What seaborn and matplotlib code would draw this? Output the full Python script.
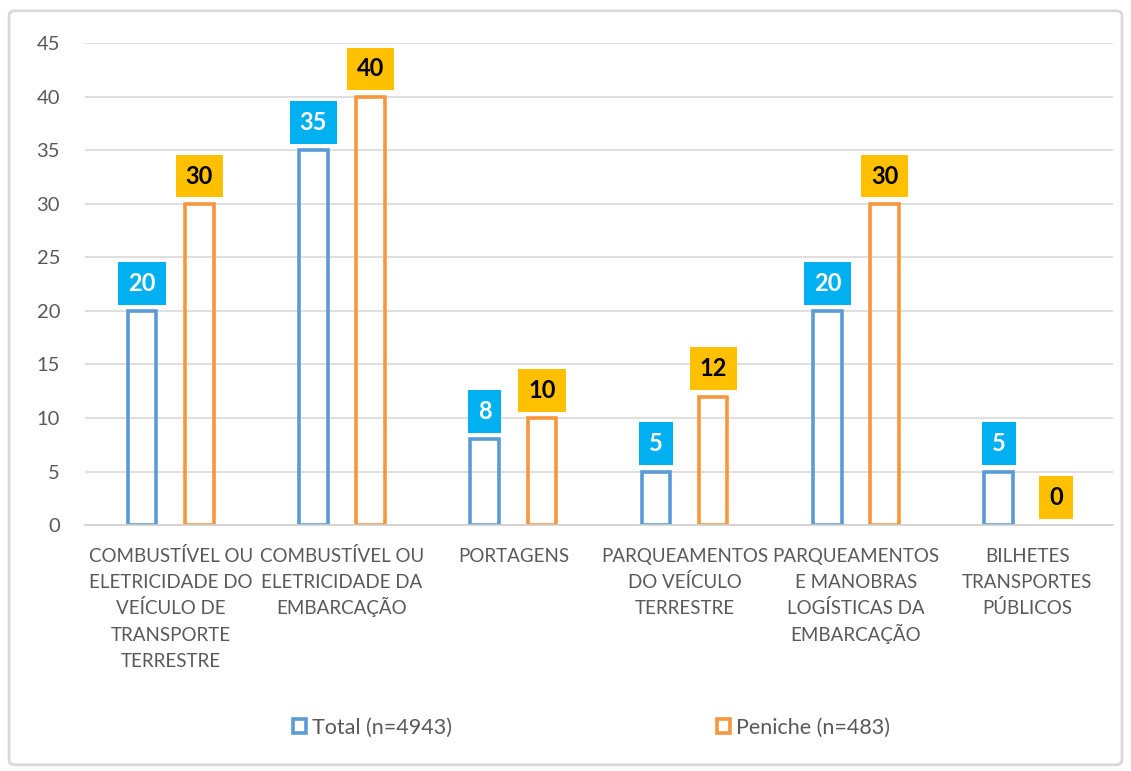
import matplotlib
matplotlib.use("Agg")
import matplotlib.pyplot as plt
import seaborn as sns
import pandas as pd
from matplotlib.patches import Patch, FancyBboxPatch

categories = [
    "COMBUSTÍVEL OU\nELETRICIDADE DO\nVEÍCULO DE\nTRANSPORTE\nTERRESTRE",
    "COMBUSTÍVEL OU\nELETRICIDADE DA\nEMBARCAÇÃO",
    "PORTAGENS",
    "PARQUEAMENTOS\nDO VEÍCULO\nTERRESTRE",
    "PARQUEAMENTOS\nE MANOBRAS\nLOGÍSTICAS DA\nEMBARCAÇÃO",
    "BILHETES\nTRANSPORTES\nPÚBLICOS",
]
series_names = ["Total (n=4943)", "Peniche (n=483)"]
total_values = [20, 35, 8, 5, 20, 5]
peniche_values = [30, 40, 10, 12, 30, 0]
y_ticks = [0, 5, 10, 15, 20, 25, 30, 35, 40, 45]

edge_colors = ["#5B9BD5", "#F7963C"]
label_box_colors = ["#00B0F0", "#FFC000"]
label_text_colors = ["white", "black"]

df = pd.DataFrame({
    "cat": categories * 2,
    "series": [series_names[0]] * len(categories) + [series_names[1]] * len(categories),
    "value": total_values + peniche_values,
})

sns.set_theme(style="white")
plt.rcParams["font.family"] = ["Lato", "DejaVu Sans"]

fig = plt.figure(figsize=(11.31, 7.71), dpi=100)
ax = fig.add_axes([0.0752, 0.319, 0.9088, 0.625])

sns.barplot(data=df, x="cat", y="value", hue="series", hue_order=series_names,
            order=categories, palette=edge_colors, fill=False, width=0.667, gap=0.5,
            linewidth=2.6, legend=False, ax=ax, errorbar=None)

ax.set_ylim(0, 45)
ax.set_xlim(-0.5, len(categories) - 0.5)
ax.set_yticks(y_ticks)
ax.set_yticklabels([str(t) for t in y_ticks], fontsize=14.5, color="#595959")
ax.tick_params(axis="y", length=0, pad=18)
ax.yaxis.grid(True, color="#D9D9D9", linewidth=1.2)
ax.set_axisbelow(True)

# category labels: one text per line (baseline-aligned) for uniform line spacing
ax.set_xticks(range(len(categories)))
ax.set_xticklabels([""] * len(categories))
ax.tick_params(axis="x", which="major", length=0)
for i, cat in enumerate(categories):
    for j, line in enumerate(cat.split("\n")):
        ax.annotate(line, xy=(i, 0), xycoords=("data", "axes fraction"),
                    xytext=(0, -26.6 - 18.9 * j), textcoords="offset points",
                    ha="center", va="baseline", fontsize=13.5, color="#595959")
ax.set_xticks([i - 0.5 for i in range(len(categories) + 1)], minor=True)
ax.tick_params(axis="x", which="minor", length=6, width=1.2, color="#D0D0D0")
ax.set_xlabel("")
ax.set_ylabel("")
for s in ["left", "right", "top"]:
    ax.spines[s].set_visible(False)
ax.spines["bottom"].set_color("#D0D0D0")
ax.spines["bottom"].set_linewidth(1.2)

for i, cont in enumerate(ax.containers):
    for bar in cont:
        h = bar.get_height()
        if h == 0:
            bar.set_visible(False)
        x = bar.get_x() + bar.get_width() / 2
        ax.annotate(f"{int(h)}", xy=(x, h), xytext=(0, 20), textcoords="offset points",
                    ha="center", va="center", fontsize=17, fontweight="bold",
                    color=label_text_colors[i],
                    bbox=dict(boxstyle="square,pad=0.42", fc=label_box_colors[i], ec="none"))

handles = [Patch(facecolor="white", edgecolor=edge_colors[i], linewidth=2.6) for i in range(2)]
fig.legend(handles, series_names, loc="center", bbox_to_anchor=(0.523, 0.056), ncol=2,
           frameon=False, fontsize=15.5, handlelength=0.6, handleheight=0.6,
           handletextpad=0.3, columnspacing=12.3, labelcolor="#595959")

border = FancyBboxPatch((0.008, 0.008), 0.984, 0.978, boxstyle="round,pad=0,rounding_size=0.006",
                        transform=fig.transFigure, fill=False, ec="#D9D9D9", lw=2)
fig.patches.append(border)

fig.savefig("out.png", dpi=100)
